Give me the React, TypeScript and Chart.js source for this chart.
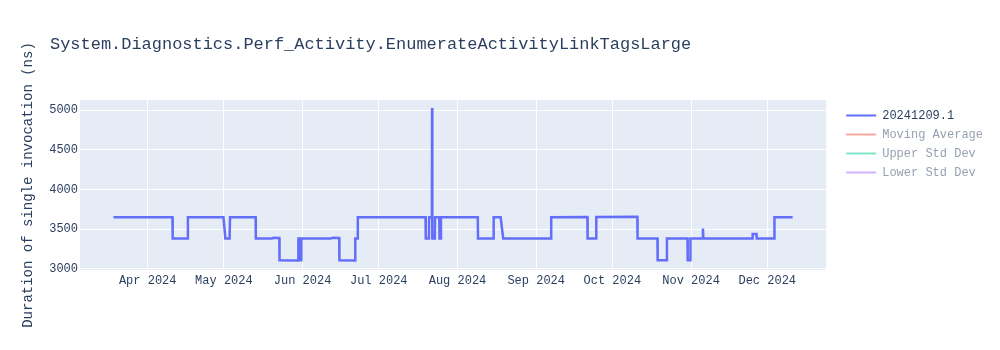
import React, { useEffect, useRef } from "react";
import { Chart, registerables } from "chart.js";

Chart.register(...registerables);

// ---- data ----
const runDates: string[] = [
  "2024-03-18T12:00", "2024-04-10T18:00", "2024-04-10T20:00", "2024-04-16T18:00", "2024-04-16T20:00",
  "2024-04-30T20:00", "2024-05-01T14:00", "2024-05-03T06:00", "2024-05-03T10:00", "2024-05-13T12:00",
  "2024-05-13T14:00", "2024-05-20T00:00", "2024-05-20T12:00", "2024-05-22T20:00", "2024-05-22T22:00",
  "2024-05-30T06:00", "2024-05-30T08:00", "2024-05-30T20:00", "2024-05-30T22:00", "2024-05-31T10:00",
  "2024-05-31T12:00", "2024-06-12T00:00", "2024-06-13T00:00", "2024-06-15T10:00", "2024-06-15T12:00",
  "2024-06-21T16:00", "2024-06-21T18:00", "2024-06-22T16:00", "2024-06-22T18:00", "2024-07-19T10:00",
  "2024-07-19T12:00", "2024-07-20T18:00", "2024-07-20T20:00", "2024-07-21T22:00", "2024-07-22T00:00",
  "2024-07-22T02:00", "2024-07-23T02:00", "2024-07-23T04:00", "2024-07-24T20:00", "2024-07-24T22:00",
  "2024-07-25T10:00", "2024-07-25T12:00", "2024-08-09T00:00", "2024-08-09T02:00", "2024-08-15T04:00",
  "2024-08-15T06:00", "2024-08-18T00:00", "2024-08-19T00:00", "2024-09-06T20:00", "2024-09-06T22:00",
  "2024-09-21T04:00", "2024-09-21T06:00", "2024-09-24T14:00", "2024-09-24T16:00", "2024-10-10T20:00",
  "2024-10-10T22:00", "2024-10-18T18:00", "2024-10-18T20:00", "2024-10-22T10:00", "2024-10-22T12:00",
  "2024-10-30T14:00", "2024-10-30T16:00", "2024-10-31T16:00", "2024-10-31T18:00", "2024-11-05T14:00",
  "2024-11-05T16:00", "2024-11-05T20:00", "2024-11-25T04:00", "2024-11-25T06:00", "2024-11-26T18:00",
  "2024-11-26T20:00", "2024-12-03T18:00", "2024-12-03T20:00", "2024-12-11T00:00",
];
const durations: number[] = [
  3652, 3652, 3385, 3383, 3652,
  3652, 3385, 3385, 3652, 3652,
  3385, 3385, 3392, 3390, 3110,
  3108, 3385, 3385, 3110, 3110,
  3385, 3385, 3392, 3390, 3110,
  3108, 3385, 3385, 3652, 3652,
  3385, 3385, 3652, 3652, 5029,
  3385, 3385, 3652, 3652, 3385,
  3385, 3652, 3652, 3385, 3385,
  3652, 3652, 3385, 3385, 3652,
  3655, 3385, 3385, 3655, 3658,
  3385, 3385, 3110, 3110, 3385,
  3385, 3110, 3110, 3385, 3385,
  3509, 3385, 3383, 3440, 3440,
  3385, 3385, 3652, 3652,
];

const seriesLabels = ["20241209.1", "Moving Average", "Upper Std Dev", "Lower Std Dev"];
const seriesColors = ["#636efa", "rgba(239,85,59,0.5)", "rgba(0,204,150,0.5)", "rgba(171,99,250,0.5)"];
const legendTextColors = ["#2a3f5f", "rgba(42,63,95,0.5)", "rgba(42,63,95,0.5)", "rgba(42,63,95,0.5)"];

const monthTickDates = [
  "2024-04-01T00:00", "2024-05-01T00:00", "2024-06-01T00:00", "2024-07-01T00:00", "2024-08-01T00:00",
  "2024-09-01T00:00", "2024-10-01T00:00", "2024-11-01T00:00", "2024-12-01T00:00",
];
const monthTickLabels = [
  "Apr 2024", "May 2024", "Jun 2024", "Jul 2024", "Aug 2024",
  "Sep 2024", "Oct 2024", "Nov 2024", "Dec 2024",
];
const yTickValues = [3000, 3500, 4000, 4500, 5000];
const xRange = ["2024-03-05T08:00", "2024-12-24T05:00"];
const yRange = [2987, 5130];

const chartTitle = "System.Diagnostics.Perf_Activity.EnumerateActivityLinkTagsLarge";
const yAxisTitle = "Duration of single invocation (ns)";

const FONT = "'Liberation Mono', 'Courier New', monospace";
const TEXT_COLOR = "#2a3f5f";

const toMs = (s: string) => Date.parse(s + ":00Z");

export default function App() {
  const canvasRef = useRef<HTMLCanvasElement | null>(null);

  useEffect(() => {
    const canvas = canvasRef.current;
    if (!canvas) return;
    const monthTickMs = monthTickDates.map(toMs);

    const backgroundPlugin = {
      id: "plotBackground",
      beforeDraw(chart: any) {
        const { ctx, chartArea } = chart;
        ctx.save();
        ctx.fillStyle = "#ffffff";
        ctx.fillRect(0, 0, chart.width, chart.height);
        ctx.fillStyle = "#e5ecf6";
        ctx.fillRect(chartArea.left, chartArea.top, chartArea.right - chartArea.left, chartArea.bottom - chartArea.top);
        ctx.restore();
      },
    };

    const titlePlugin = {
      id: "plotTitle",
      afterDraw(chart: any) {
        const { ctx } = chart;
        ctx.save();
        ctx.font = `16px ${FONT}`;
        ctx.fillStyle = TEXT_COLOR;
        ctx.textBaseline = "alphabetic";
        ctx.textAlign = "left";
        const w = ctx.measureText(chartTitle).width || 1;
        const sx = Math.min(1.06, Math.max(0.94, 643 / w));
        ctx.translate(50, 49);
        ctx.scale(sx, 1);
        ctx.fillText(chartTitle, 0, 0);
        ctx.restore();
      },
    };

    const datasets: any[] = seriesLabels.map((label, i) => ({
      label,
      data: i === 0 ? runDates.map((d, k) => ({ x: toMs(d), y: durations[k] })) : [],
      borderColor: seriesColors[i],
      backgroundColor: seriesColors[i],
      borderWidth: 2.5,
      pointRadius: 0,
      tension: 0,
      fill: false,
    }));

    const chart = new Chart(canvas, {
      type: "line",
      data: { datasets },
      options: {
        animation: false,
        responsive: false,
        events: [],
        layout: { padding: { top: 100, left: 0, right: 7, bottom: 0 } },
        scales: {
          x: {
            type: "linear",
            min: toMs(xRange[0]),
            max: toMs(xRange[1]),
            grid: { color: "#ffffff", lineWidth: 1, drawTicks: false },
            border: { display: false },
            ticks: {
              autoSkip: false,
              maxRotation: 0,
              padding: 4,
              color: TEXT_COLOR,
              font: { family: FONT, size: 12 },
              callback: (value: any) => {
                const i = monthTickMs.indexOf(Number(value));
                return i >= 0 ? monthTickLabels[i] : "";
              },
            },
            afterBuildTicks: (scale: any) => {
              scale.ticks = monthTickMs.map((v) => ({ value: v }));
            },
            afterFit: (scale: any) => {
              scale.height = 80;
            },
          },
          y: {
            type: "linear",
            min: yRange[0],
            max: yRange[1],
            grid: { color: "#ffffff", lineWidth: 1, drawTicks: false },
            border: { display: false },
            ticks: {
              padding: 2,
              color: TEXT_COLOR,
              font: { family: FONT, size: 12 },
              callback: (value: any) => String(value),
            },
            afterBuildTicks: (scale: any) => {
              scale.ticks = yTickValues.map((v) => ({ value: v }));
            },
            afterFit: (scale: any) => {
              scale.width = 80;
            },
            title: {
              display: true,
              text: yAxisTitle,
              color: TEXT_COLOR,
              font: { family: FONT, size: 14 },
              padding: { top: 20, bottom: 0 },
            },
          },
          y2: {
            type: "linear",
            position: "right",
            display: true,
            grid: { display: false, drawTicks: false },
            border: { display: false },
            ticks: { display: false },
            afterFit: (scale: any) => {
              scale.width = 13;
            },
          },
        },
        plugins: {
          title: { display: false },
          tooltip: { enabled: false },
          legend: {
            display: true,
            position: "right",
            align: "start",
            fullSize: false,
            title: { display: true, text: " ", padding: 0, font: { size: 2 } },
            labels: {
              boxWidth: 30,
              boxHeight: 2,
              padding: 7,
              font: { family: FONT, size: 12 },
              generateLabels: () =>
                seriesLabels.map((text, i) => ({
                  text,
                  fillStyle: seriesColors[i],
                  strokeStyle: seriesColors[i],
                  lineWidth: 0,
                  fontColor: legendTextColors[i],
                  hidden: false,
                  datasetIndex: i,
                })),
            },
          },
        },
      },
      plugins: [backgroundPlugin, titlePlugin],
    } as any);

    return () => chart.destroy();
  }, []);

  return (
    <div style={{ position: "absolute", left: 0, top: 0, width: 1000, height: 350, background: "#ffffff" }}>
      <canvas ref={canvasRef} width={1000} height={350} style={{ display: "block" }} />
    </div>
  );
}
